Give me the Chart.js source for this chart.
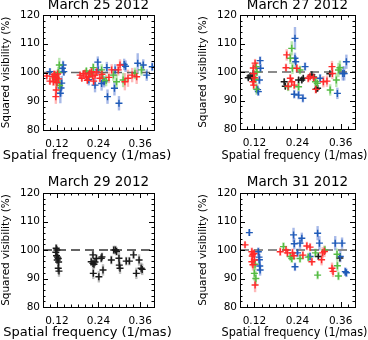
<!DOCTYPE html>
<html><head><meta charset="utf-8">
<script src="https://cdn.jsdelivr.net/npm/chart.js@4"></script>
<style>
html,body{margin:0;padding:0;background:#fff;width:368px;height:340px;overflow:hidden}
.p{position:absolute;width:184px;height:170px;overflow:hidden}
canvas{display:block}
</style></head><body>
<div class="p" style="left:0;top:0"><canvas id="c1" width="184" height="170"></canvas></div>
<div class="p" style="left:184px;top:0"><canvas id="c2" width="184" height="170"></canvas></div>
<div class="p" style="left:0;top:170px"><canvas id="c3" width="184" height="170"></canvas></div>
<div class="p" style="left:184px;top:170px"><canvas id="c4" width="184" height="170"></canvas></div>
<script>
// ---------- text / ticks ----------
const titles = ['March 25 2012', 'March 27 2012', 'March 29 2012', 'March 31 2012'];
const xTitle = 'Spatial frequency (1/mas)';
const yTitle = 'Squared visibility (%)';
const xTicks = [0.12, 0.24, 0.36];
const yTicks = [80, 90, 100, 110, 120];
const xRange = [0.08, 0.40];
const yRange = [80, 120];
const xMinorStep = 0.02;
const yMinorStep = 2;
const refValue = 100;

// ---------- data: [spatial frequency, squared visibility %, error] ----------
const mar25Blue = [[0.100,100.3,1.2],[0.136,101.5,1.5],[0.138,102.6,1.5],[0.140,100.3,1.5],[0.132,94.6,3],[0.130,92.8,3.5],[0.134,96.3,2.5],
  [0.238,103.6,2],[0.239,100.9,1.5],[0.230,95.6,2.5],[0.249,96.2,2.5],[0.264,101.7,2],[0.266,91.6,2.5],[0.288,100.9,2],[0.286,94.5,2.5],
  [0.299,89.3,2.5],[0.314,102.8,2],[0.318,102.2,2],[0.353,103.2,3.5],[0.369,102.6,2],[0.379,99.1,2],[0.395,102.0,1.5],[0.256,96.8,2],[0.212,97.5,2]];
const mar25Red = [[0.091,98.8,1],[0.100,97.0,1.2],[0.108,98.5,1.5],[0.112,99.3,1.5],[0.114,99.1,1.5],[0.116,97.5,2],[0.118,98.2,2],[0.120,96.5,2],
  [0.118,93.9,2.5],[0.117,91.6,2.5],[0.122,99.5,1.5],[0.110,96.8,1.5],[0.125,97.8,2],
  [0.187,99.1,1],[0.192,98.0,1],[0.196,99.6,1],[0.201,99.7,1.2],[0.205,98.4,1.2],[0.211,98.5,1.2],[0.215,99.8,1.2],[0.220,100.3,1.5],
  [0.223,98.8,1.5],[0.230,99.1,1.5],[0.235,100.2,1.5],[0.244,98.0,1.5],[0.250,99.4,1.5],[0.278,100.9,2],[0.297,100.9,2],[0.302,102.6,2],
  [0.316,96.8,3],[0.325,98.0,3],[0.337,99.1,2.5],[0.350,98.5,2.5],[0.270,98.3,2],[0.208,97.3,1.2],[0.226,97.0,1.5]];
const mar25Green = [[0.127,102.6,2.5],[0.124,100.0,2],[0.120,97.0,2],[0.128,95.5,2.5],[0.115,98.0,1.5],[0.225,101.7,1.5],[0.217,99.5,1.5],
  [0.249,100.9,2],[0.252,98.0,2],[0.283,99.1,2],[0.292,96.8,2.5],[0.311,97.4,2.5],[0.345,99.7,2],[0.364,100.9,2],[0.205,100.5,1.2],[0.262,97.2,2]];

const mar27Black = [[0.103,98.0,0.8],[0.108,98.6,0.8],[0.113,98.0,0.8],[0.117,99.5,1],[0.203,96.6,1],[0.206,95.0,1],[0.243,97.2,1],
  [0.252,97.2,1],[0.256,97.8,1],[0.280,99.0,1],[0.292,94.0,1],[0.296,94.3,1],[0.285,98.2,1],[0.330,99.4,1]];
const mar27Red = [[0.122,103.1,1.5],[0.117,101.4,1.5],[0.118,99.5,1.5],[0.116,96.6,1.5],[0.118,95.4,1.5],[0.120,98.0,1.5],[0.210,106.0,2],
  [0.208,101.5,1.5],[0.238,101.3,1.5],[0.220,97.8,1.5],[0.224,96.6,1.5],[0.231,95.4,1.5],[0.214,95.0,1.5],[0.275,98.4,1.5],[0.270,97.8,1.5],
  [0.285,98.0,1.5],[0.291,93.9,1.5],[0.312,96.6,2],[0.322,96.8,2],[0.337,99.5,2],[0.336,101.9,2]];
const mar27Green = [[0.125,101.9,1.5],[0.127,100.0,1.5],[0.126,94.0,2],[0.123,97.5,1.5],[0.224,108.3,2.5],[0.220,104.8,2],[0.226,101.3,2],
  [0.247,100.7,1.5],[0.214,94.8,1.5],[0.243,94.8,1.5],[0.290,96.6,2],[0.295,96.0,2],[0.331,93.7,2],[0.348,97.2,2.5],[0.354,100.7,2.5],[0.358,101.5,2.5]];
const mar27Blue = [[0.136,104.0,1.5],[0.137,101.3,1.5],[0.134,97.2,1.5],[0.131,93.1,1.5],[0.129,93.8,1.5],[0.233,111.8,4],[0.233,104.8,2],
  [0.235,103.6,2],[0.261,101.9,1.5],[0.231,92.2,1.5],[0.243,91.9,1.5],[0.255,90.8,1.5],[0.303,97.8,1.5],[0.351,92.5,2],[0.366,99.5,2.5],
  [0.370,99.5,2.5],[0.376,103.6,2.5]];

const mar29Black = [[0.118,100.6,1.5],[0.120,100.0,1.5],[0.117,99.2,1.5],[0.119,98.0,1.5],[0.122,97.5,1.5],[0.121,96.5,1.5],[0.124,97.0,1.5],
  [0.125,95.8,1.5],[0.124,93.6,2],[0.126,92.6,2],[0.224,98.3,1.5],[0.219,95.9,1.5],[0.224,95.3,1.5],[0.227,95.0,1.5],[0.230,95.8,1.5],
  [0.234,97.0,1.5],[0.225,91.8,2],[0.241,90.6,2],[0.248,97.1,1.5],[0.250,97.6,1.5],[0.253,93.0,2],[0.277,96.5,1.5],[0.284,100.0,1.5],
  [0.289,100.0,1.5],[0.292,99.5,1.5],[0.299,97.1,2],[0.300,94.7,2],[0.302,93.6,2],[0.320,96.1,1.5],[0.329,96.1,1.5],[0.341,98.3,1.5],
  [0.357,96.5,2],[0.349,91.8,2],[0.363,93.6,2],[0.366,93.2,2]];

const mar31Blue = [[0.106,106.1,1.2],[0.131,99.4,1.5],[0.133,97.5,2],[0.134,96.6,2],[0.135,94.4,2],[0.136,93.0,2],[0.229,105.3,2.5],
  [0.231,102.2,2],[0.233,94.1,1.5],[0.247,102.4,2],[0.252,104.1,2],[0.275,97.7,1.5],[0.296,105.9,2.5],[0.301,102.4,2.5],[0.345,102.4,2.5],
  [0.359,97.7,2],[0.364,102.4,2],[0.373,92.4,1.5],[0.376,92.0,1.5],[0.240,99.0,1.5]];
const mar31Red = [[0.094,101.8,1],[0.113,99.4,1.5],[0.116,98.5,1.5],[0.114,97.9,1.5],[0.119,98.8,1.5],[0.113,95.9,2],[0.116,94.8,2],
  [0.122,87.7,2.5],[0.120,96.5,2],[0.192,99.4,1.5],[0.208,100.0,1.5],[0.212,99.0,1.5],[0.226,99.0,1.5],[0.230,98.0,1.5],[0.266,101.4,1.5],
  [0.275,101.0,1.5],[0.280,95.9,1.5],[0.310,99.0,2],[0.315,99.5,2],[0.307,96.6,2],[0.336,93.6,2],[0.339,92.5,2],[0.255,98.2,1.5]];
const mar31Green = [[0.120,91.8,2.5],[0.124,90.0,2.5],[0.122,95.0,2],[0.201,101.2,1.5],[0.220,97.7,1.5],[0.224,97.0,1.5],[0.247,97.0,1.5],
  [0.290,99.0,1.5],[0.296,91.2,1.5],[0.316,100.0,1.5],[0.350,98.5,2],[0.351,94.5,2],[0.354,90.9,1.5],[0.270,97.5,1.5]];
const mar31Black = [[0.298,97.7,1],[0.358,97.2,1]];

// ---------- styling ----------
const colors = {blue:'#1f5bb8', red:'#ff2a2a', green:'#55bb44', black:'#1a1a1a'};
const errColors = {blue:'rgba(60,100,205,0.45)', red:'rgba(255,80,80,0.40)', green:'rgba(100,200,80,0.45)', black:'rgba(110,110,110,0.45)'};
const drawOrder = {red:1, green:2, blue:3, black:4};

const panels = [
  {id:'c1', title:titles[0], series:{blue:mar25Blue, red:mar25Red, green:mar25Green}, refColor:'#666',
   L:{left:0, right:30, yW:43, xH:40, tTop:0, tBot:4.2, ytTop:0.75, xtX:87, xtY:156, xtW:172}},
  {id:'c2', title:titles[1], series:{black:mar27Black, red:mar27Red, green:mar27Green, blue:mar27Blue}, refColor:'#666',
   L:{left:12, right:13, yW:44, xH:41, tTop:0, tBot:4.2, ytTop:1.75, xtX:110.5, xtY:156, xtW:146}},
  {id:'c3', title:titles[2], series:{black:mar29Black}, refColor:'#333',
   L:{left:0, right:30, yW:43, xH:33, tTop:7.5, tBot:4.7, ytTop:0.75, xtX:87.5, xtY:163, xtW:172}},
  {id:'c4', title:titles[3], series:{blue:mar31Blue, red:mar31Red, green:mar31Green, black:mar31Black}, refColor:'#666',
   L:{left:12, right:13, yW:44, xH:33, tTop:7.5, tBot:4.7, ytTop:1.75, xtX:110.5, xtY:163, xtW:146}}
];

const FONT = "'DejaVu Sans', sans-serif";

const errorBars = {
  id: 'errorBars',
  beforeDatasetsDraw(chart) {
    const ctx = chart.ctx, ys = chart.scales.y, a = chart.chartArea;
    ctx.save();
    ctx.beginPath(); ctx.rect(a.left, a.top, a.right - a.left, a.bottom - a.top); ctx.clip();
    chart.data.datasets.forEach((ds, i) => {
      if (!ds.errColor) return;
      const meta = chart.getDatasetMeta(i);
      ctx.strokeStyle = ds.errColor; ctx.lineWidth = 2.4;
      meta.data.forEach((pt, j) => {
        const d = ds.data[j];
        ctx.beginPath();
        ctx.moveTo(pt.x, ys.getPixelForValue(d.y - d.e));
        ctx.lineTo(pt.x, ys.getPixelForValue(d.y + d.e));
        ctx.stroke();
      });
    });
    ctx.restore();
  }
};

const frameTicks = {
  id: 'frameTicks',
  afterDraw(chart) {
    const ctx = chart.ctx, a = chart.chartArea, xs = chart.scales.x, ys = chart.scales.y;
    ctx.save();
    ctx.strokeStyle = '#000'; ctx.lineWidth = 1;
    ctx.strokeRect(Math.round(a.left) + 0.5, Math.round(a.top) + 0.5, Math.round(a.right - a.left), Math.round(a.bottom - a.top));
    ctx.beginPath();
    const nx = Math.round((xRange[1] - xRange[0]) / xMinorStep);
    for (let k = 0; k <= nx; k++) {
      const v = xRange[0] + k * xMinorStep;
      const major = xTicks.some(t => Math.abs(t - v) < 1e-6);
      const len = major ? 5 : 2.5;
      const px = Math.round(xs.getPixelForValue(v)) + 0.5;
      ctx.moveTo(px, a.bottom); ctx.lineTo(px, a.bottom - len);
      ctx.moveTo(px, a.top); ctx.lineTo(px, a.top + len);
    }
    const ny = Math.round((yRange[1] - yRange[0]) / yMinorStep);
    for (let k = 0; k <= ny; k++) {
      const v = yRange[0] + k * yMinorStep;
      const major = yTicks.includes(v);
      const len = major ? 5 : 2.5;
      const py = Math.round(ys.getPixelForValue(v)) + 0.5;
      ctx.moveTo(a.left, py); ctx.lineTo(a.left + len, py);
      ctx.moveTo(a.right, py); ctx.lineTo(a.right - len, py);
    }
    ctx.stroke();
    // x-axis title (drawn here so it is not squeezed to the plot width)
    const L = chart.options.plugins.frameTicks;
    ctx.fillStyle = '#000';
    ctx.font = "13px " + FONT;
    ctx.textAlign = 'center'; ctx.textBaseline = 'middle';
    ctx.fillText(xTitle, L.xtX, L.xtY, L.xtW);
    ctx.restore();
  }
};

panels.forEach(p => {
  const L = p.L;
  const datasets = [{
    type: 'line',
    data: [{x: xRange[0], y: refValue}, {x: xRange[1], y: refValue}],
    borderColor: p.refColor, borderWidth: 1.5, borderDash: [9, 5],
    pointRadius: 0, fill: false, order: 10
  }];
  Object.keys(p.series).forEach(k => {
    datasets.push({
      type: 'scatter',
      data: p.series[k].map(([x, y, e]) => ({x, y, e})),
      pointStyle: 'cross', pointRadius: 3.5, pointHoverRadius: 3.5,
      borderColor: colors[k], backgroundColor: colors[k], pointBorderWidth: 1.4, borderWidth: 1.4,
      errColor: errColors[k], order: drawOrder[k]
    });
  });
  new Chart(document.getElementById(p.id), {
    type: 'scatter',
    data: {datasets},
    options: {
      responsive: false, animation: false, events: [],
      layout: {padding: {left: L.left, right: L.right, top: 0, bottom: 0}, autoPadding: false},
      plugins: {
        legend: {display: false}, tooltip: {enabled: false},
        title: {display: true, text: p.title, color: '#000', fullSize: false,
          font: {family: FONT, size: 13.5, weight: 'normal', lineHeight: 0.8},
          padding: {top: L.tTop, bottom: L.tBot}},
        frameTicks: L
      },
      scales: {
        x: {
          type: 'linear', min: xRange[0], max: xRange[1],
          afterBuildTicks: s => { s.ticks = xTicks.map(v => ({value: v})); },
          afterFit: s => { s.height = L.xH; },
          grid: {display: false, drawTicks: false}, border: {display: false},
          ticks: {color: '#000', font: {family: FONT, size: 10.5}, padding: 7.7, maxRotation: 0,
            callback: v => v.toFixed(2)},
          title: {display: false}
        },
        y: {
          type: 'linear', min: yRange[0], max: yRange[1],
          afterBuildTicks: s => { s.ticks = yTicks.map(v => ({value: v})); },
          afterFit: s => { s.width = L.yW; },
          grid: {display: false, drawTicks: false}, border: {display: false},
          ticks: {color: '#000', font: {family: FONT, size: 10.5}, padding: 3,
            callback: v => String(v)},
          title: {display: true, text: yTitle, color: '#000',
            font: {family: FONT, size: 10.5, lineHeight: 1}, padding: {top: L.ytTop, bottom: 0}}
        }
      }
    },
    plugins: [errorBars, frameTicks]
  });
});
</script>
</body></html>
